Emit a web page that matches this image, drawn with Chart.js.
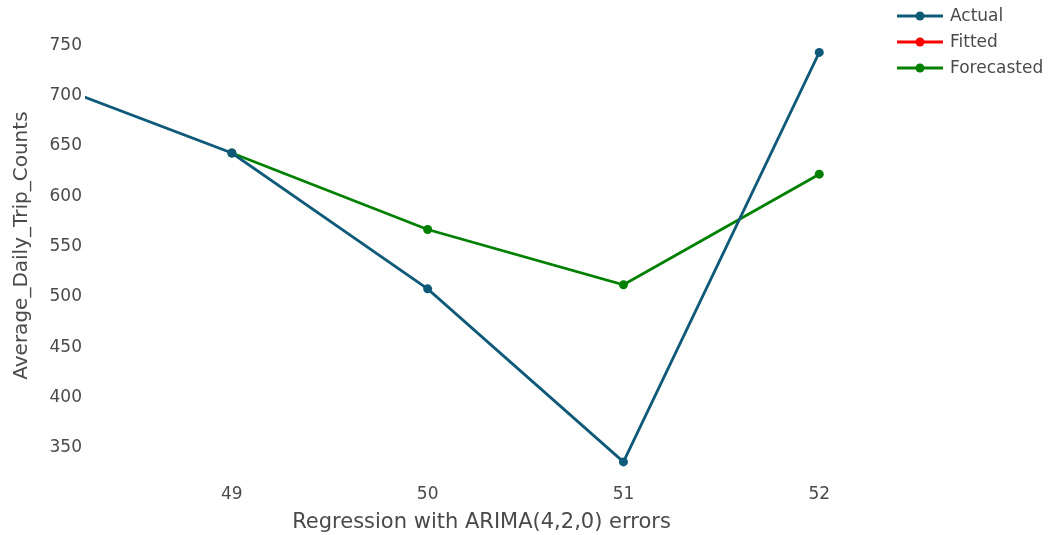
<!DOCTYPE html>
<html>
<head>
<meta charset="utf-8">
<script src="https://cdn.jsdelivr.net/npm/chart.js@4.4.1/dist/chart.umd.min.js"></script>
<style>
  html, body { margin: 0; padding: 0; background: #fff; }
  #wrap { width: 1050px; height: 535px; }
</style>
</head>
<body>
<div id="wrap"><canvas id="grafica" width="1050" height="535"></canvas></div>
<script>
// Datos (semanas y conteos medios diarios)
const semanasActual = [48, 49, 50, 51, 52];
const valoresActual = [717, 643, 508, 336, 743];
const semanasFitted = [];
const valoresFitted = [];
const semanasForecast = [49, 50, 51, 52];
const valoresForecast = [643, 567, 512, 622];
const ticksX = [49, 50, 51, 52];
const ticksY = [350, 400, 450, 500, 550, 600, 650, 700, 750];

const colorActual = '#0f5a78';
const colorFitted = '#ff0000';
const colorForecast = '#008000';
const colorTexto = '#4a4a4a';
const fuente = "'DejaVu Sans', Verdana, sans-serif";

function aPuntos(xs, ys) {
    return xs.map((x, i) => ({ x: x, y: ys[i] }));
}

function serie(label, xs, ys, color) {
    return {
        label: label,
        data: aPuntos(xs, ys),
        borderColor: color,
        backgroundColor: color,
        borderWidth: 2.8,
        pointRadius: 4.5,
        pointBorderWidth: 0,
        pointBackgroundColor: color,
        tension: 0,
        clip: 0
    };
}

// Leyenda estilo plotly: línea con punto + texto
const leyendaPlotly = {
    id: 'leyendaPlotly',
    afterDraw(chart) {
        const ctx = chart.ctx;
        ctx.save();
        ctx.font = '17px ' + fuente;
        ctx.textBaseline = 'middle';
        ctx.textAlign = 'left';
        chart.data.datasets.forEach((ds, i) => {
            const y = 16 + i * 26;
            ctx.strokeStyle = ds.borderColor;
            ctx.lineWidth = 2.8;
            ctx.beginPath();
            ctx.moveTo(897, y);
            ctx.lineTo(943, y);
            ctx.stroke();
            ctx.fillStyle = ds.borderColor;
            ctx.beginPath();
            ctx.arc(920, y, 4.5, 0, Math.PI * 2);
            ctx.fill();
            ctx.fillStyle = colorTexto;
            ctx.fillText(ds.label, 950, y + 1);
        });
        ctx.restore();
    }
};

const ctx = document.getElementById('grafica').getContext('2d');
new Chart(ctx, {
    type: 'line',
    data: {
        datasets: [
            serie('Actual', semanasActual, valoresActual, colorActual),
            serie('Fitted', semanasFitted, valoresFitted, colorFitted),
            serie('Forecasted', semanasForecast, valoresForecast, colorForecast)
        ]
    },
    options: {
        responsive: false,
        animation: false,
        layout: { padding: { left: 0, right: 172, top: 0, bottom: 0 } },
        plugins: {
            legend: { display: false },
            tooltip: { enabled: false }
        },
        scales: {
            x: {
                type: 'linear',
                min: 48.25,
                max: 52.3,
                border: { display: false },
                grid: { display: false, drawTicks: false },
                afterBuildTicks: (scale) => { scale.ticks = ticksX.map(v => ({ value: v })); },
                afterFit: (scale) => { scale.height = 57; },
                ticks: {
                    color: colorTexto,
                    padding: 6,
                    font: { family: fuente, size: 17 },
                    callback: (v) => String(v)
                },
                title: {
                    display: true,
                    text: 'Regression with ARIMA(4,2,0) errors',
                    color: colorTexto,
                    font: { family: fuente, size: 21 },
                    padding: { top: 0, bottom: 0 }
                }
            },
            y: {
                min: 320,
                max: 782,
                border: { display: false },
                grid: { display: false, drawTicks: false },
                afterBuildTicks: (scale) => { scale.ticks = ticksY.map(v => ({ value: v })); },
                afterFit: (scale) => { scale.width = 85; },
                ticks: {
                    color: colorTexto,
                    padding: 3,
                    font: { family: fuente, size: 17 },
                    callback: (v) => String(v)
                },
                title: {
                    display: true,
                    text: 'Average_Daily_Trip_Counts',
                    color: colorTexto,
                    font: { family: fuente, size: 20 },
                    padding: { top: 10, bottom: 0 }
                }
            }
        }
    },
    plugins: [leyendaPlotly]
});
</script>
</body>
</html>
